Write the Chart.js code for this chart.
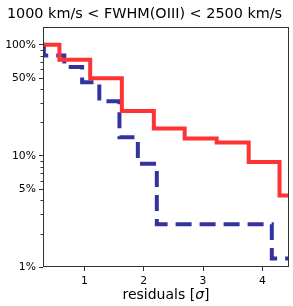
<!DOCTYPE html>
<html>
<head>
<meta charset="utf-8">
<script src="https://cdn.jsdelivr.net/npm/chart.js@4/dist/chart.umd.min.js"></script>
<style>
  html, body { margin: 0; padding: 0; background: #fff; }
  #wrap { width: 293px; height: 306px; }
</style>
</head>
<body>
<div id="wrap"><canvas id="resChart"></canvas></div>
<script>
// step positions (residuals, sigma) and fractions above them (percent)
const redSteps = [0.3, 0.577, 1.096, 1.63, 2.17, 2.69, 3.23, 3.77, 4.29, 4.5];
const redValues = [100, 73.4, 50, 25.4, 17.6, 14.3, 13.2, 8.8, 4.4, 4.4];
const blueSteps = [0.3, 0.315, 0.66, 0.96, 1.25, 1.59, 1.90, 2.22, 4.16, 4.5];
const blueValues = [100, 80, 63, 46, 31, 14.7, 8.5, 2.43, 1.19, 1.19];

const xTicks = [1, 2, 3, 4];
const yTicks = [1, 2, 3, 4, 5, 6, 7, 8, 9, 10, 20, 30, 40, 50, 60, 70, 80, 90, 100];
const yLabelled = [1, 5, 10, 50, 100];

function toPoints(xs, ys) {
  return xs.map((x, i) => ({ x: x, y: ys[i] }));
}

// frame around the plot, short minor ticks on the log axis, x label with italic sigma
const framePlugin = {
  id: "frame",
  afterDraw(chart) {
    const { ctx, chartArea: a, scales } = chart;
    ctx.save();
    ctx.strokeStyle = "#333";
    ctx.lineWidth = 1;
    scales.y.ticks.forEach((t) => {
      if (yLabelled.includes(t.value)) return;
      const y = Math.round(scales.y.getPixelForValue(t.value)) + 0.5;
      ctx.beginPath();
      ctx.moveTo(a.left - 2.5, y);
      ctx.lineTo(a.left, y);
      ctx.stroke();
    });
    ctx.strokeRect(
      Math.round(a.left) + 0.5,
      Math.round(a.top) + 0.5,
      Math.round(a.right - a.left) - 1,
      Math.round(a.bottom - a.top) - 1
    );

    // axis label
    const parts = [
      { t: "residuals [", f: "14px 'DejaVu Sans'" },
      { t: "σ", f: "italic 14px 'DejaVu Sans'" },
      { t: "]", f: "14px 'DejaVu Sans'" },
    ];
    let total = 0;
    parts.forEach((p) => {
      ctx.font = p.f;
      p.w = ctx.measureText(p.t).width;
      total += p.w;
    });
    let x = (a.left + a.right) / 2 - total / 2;
    ctx.fillStyle = "#000";
    ctx.textBaseline = "middle";
    ctx.textAlign = "left";
    parts.forEach((p) => {
      ctx.font = p.f;
      ctx.fillText(p.t, x, 295);
      x += p.w;
    });
    ctx.restore();
  },
};

Chart.defaults.font.family = "'DejaVu Sans', sans-serif";
Chart.defaults.color = "#000";

new Chart(document.getElementById("resChart"), {
  type: "line",
  data: {
    datasets: [
      {
        data: toPoints(redSteps, redValues),
        borderColor: "#ff3333",
        borderWidth: 4,
        stepped: true,
        pointRadius: 0,
        fill: false,
      },
      {
        data: toPoints(blueSteps, blueValues),
        borderColor: "#3333a0",
        borderWidth: 4,
        borderDash: [16, 8],
        stepped: true,
        pointRadius: 0,
        fill: false,
      },
    ],
  },
  options: {
    responsive: true,
    maintainAspectRatio: false,
    animation: false,
    layout: { padding: { left: 0, right: 4, top: 0, bottom: 0 } },
    plugins: {
      legend: { display: false },
      tooltip: { enabled: false },
      title: {
        display: true,
        text: "1000 km/s < FWHM(OIII) < 2500 km/s",
        font: { size: 14.4, weight: "normal" },
        color: "#000",
        padding: { top: 5.5, bottom: 4.7 },
      },
    },
    scales: {
      x: {
        type: "linear",
        min: 0.3,
        max: 4.45,
        afterBuildTicks: (scale) => {
          scale.ticks = xTicks.map((v) => ({ value: v }));
        },
        afterFit: (scale) => {
          scale.height = 39;
        },
        ticks: {
          font: { size: 10.8 },
          padding: 4,
          maxRotation: 0,
          callback: (v) => v,
        },
        grid: { drawOnChartArea: false, tickLength: 4, color: "#333" },
        border: { display: false },
      },
      y: {
        type: "logarithmic",
        min: 1,
        max: 143,
        afterBuildTicks: (scale) => {
          scale.ticks = yTicks.map((v) => ({ value: v }));
        },
        afterFit: (scale) => {
          scale.width = 43;
        },
        ticks: {
          font: { size: 10.8 },
          padding: 3,
          autoSkip: false,
          callback: (v) => (yLabelled.includes(v) ? v + "%" : ""),
        },
        grid: {
          drawOnChartArea: false,
          tickLength: 4,
          tickColor: (c) =>
            c.tick && yLabelled.includes(c.tick.value) ? "#333" : "rgba(0,0,0,0)",
        },
        border: { display: false },
      },
    },
  },
  plugins: [framePlugin],
});
</script>
</body>
</html>
